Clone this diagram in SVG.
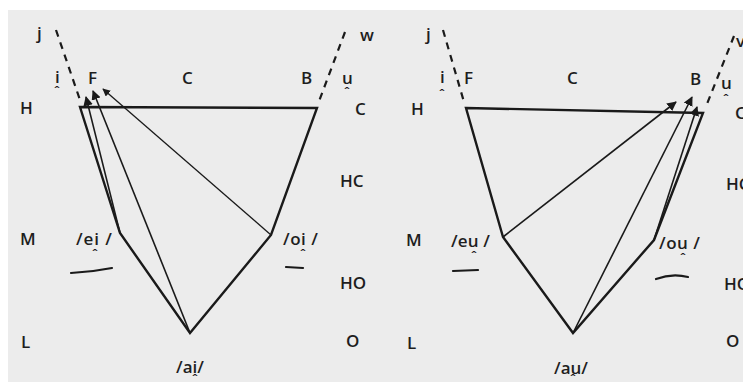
<svg xmlns="http://www.w3.org/2000/svg" width="743" height="382" viewBox="0 0 743 382">
<style>
text{font-family:"Open Sans","Liberation Sans",sans-serif;font-weight:600;font-size:17px;fill:#1e1e1e}
.car{font-size:13px}
.edge{stroke:#1a1a1a;stroke-width:2.4;fill:none;stroke-linejoin:miter}
.arr{stroke:#1a1a1a;stroke-width:1.6;fill:none;marker-end:url(#ah)}
.dash{stroke:#1a1a1a;stroke-width:2.2;stroke-dasharray:7 6;fill:none}
.ul{stroke:#1a1a1a;stroke-width:2.2;fill:none;stroke-linecap:round}
</style>
<defs>
<marker id="ah" viewBox="0 0 10 10" refX="9" refY="5" markerWidth="6" markerHeight="6" orient="auto" markerUnits="strokeWidth">
<path d="M0,0 L10,5 L0,10 z" fill="#1a1a1a"/>
</marker>
</defs>
<rect width="743" height="382" fill="#ffffff"/>
<rect x="8" y="10" width="735" height="372" fill="#ececec"/>

<g id="left-diagram">
<g id="left-labels">
<text x="37" y="39">j</text>
<text x="55" y="83">i</text>
<text class="car" x="54" y="96">ˆ</text>
<text x="88" y="84">F</text>
<text x="182" y="84">C</text>
<text x="301" y="84">B</text>
<text x="342" y="84">u</text>
<text class="car" x="344" y="97">ˆ</text>
<text x="360" y="41">w</text>
<text x="20" y="114">H</text>
<text x="355" y="115">C</text>
<text x="340" y="187">HC</text>
<text x="20" y="245">M</text>
<text x="76" y="245" textLength="36" lengthAdjust="spacing">/ei /</text>
<text class="car" x="92" y="259">ˆ</text>
<text x="283" y="245" textLength="35" lengthAdjust="spacing">/oi /</text>
<text class="car" x="300" y="259">ˆ</text>
<text x="340" y="289">HO</text>
<text x="21" y="348">L</text>
<text x="346" y="347">O</text>
<text x="176" y="373">/ai/</text>
<text class="car" x="192" y="384">ˆ</text>
</g>
<g id="left-connectors">
<path class="dash" d="M56,30 L80,100"/>
<path class="dash" d="M345,32 L318,104"/>
<path class="edge" d="M80,107 L317,108 L271,235 L190,333 L120,233 Z"/>
<path class="arr" d="M120,233 L86,97"/>
<path class="arr" d="M190,333 L93,91"/>
<path class="arr" style="stroke-width:1.3" d="M271,235 L103,89"/>
<path class="ul" d="M71,273 Q92,272 112,268"/>
<path class="ul" d="M286,267 L303,268"/>
</g>
</g>

<g id="right-diagram">
<g id="right-labels">
<text x="426" y="40">j</text>
<text x="440" y="83">i</text>
<text class="car" x="439" y="99">ˆ</text>
<text x="464" y="84">F</text>
<text x="567" y="84">C</text>
<text x="690" y="85">B</text>
<text x="721" y="89">u</text>
<text class="car" x="723" y="104">ˆ</text>
<text x="736" y="47">v</text>
<text x="411" y="115">H</text>
<text x="735" y="119">C</text>
<text x="726" y="190">HC</text>
<text x="406" y="246">M</text>
<text x="451" y="247" textLength="39" lengthAdjust="spacing">/eu /</text>
<text class="car" x="471" y="261">ˆ</text>
<text x="659" y="249" textLength="41" lengthAdjust="spacing">/ou /</text>
<text class="car" x="680" y="263">ˆ</text>
<text x="724" y="290">HO</text>
<text x="407" y="349">L</text>
<text x="726" y="347">O</text>
<text x="554" y="374">/au/</text>
<text class="car" x="570" y="384">ˆ</text>
</g>
<g id="right-connectors">
<path class="dash" d="M443,30 L464,102"/>
<path class="dash" d="M734,36 L707,104"/>
<path class="edge" d="M466,108 L703,113 L654,240 L573,333 L503,237 Z"/>
<path class="arr" d="M503,237 L676,102"/>
<path class="arr" d="M573,333 L692,97"/>
<path class="arr" d="M654,240 L697,107"/>
<path class="ul" d="M453,271 L478,270"/>
<path class="ul" d="M656,279 Q672,273 688,277"/>
</g>
</g>
</svg>
